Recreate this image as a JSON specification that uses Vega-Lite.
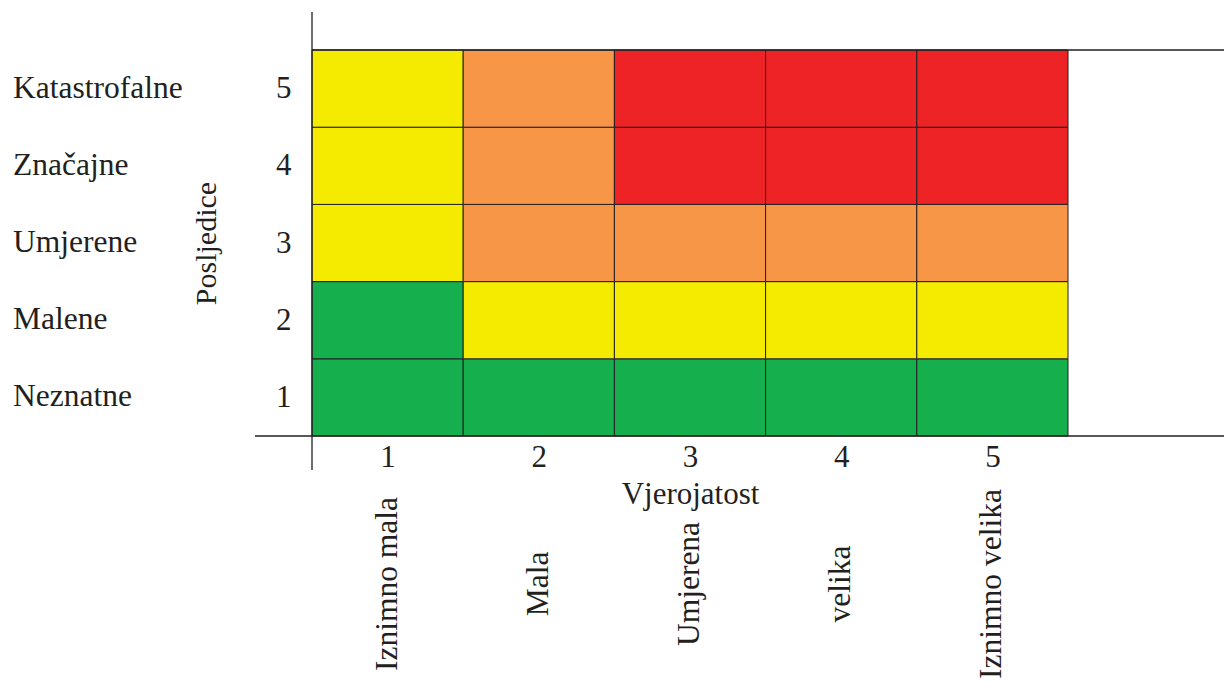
{
  "$schema": "https://vega.github.io/schema/vega-lite/v6.json",
  "width": 912,
  "height": 386,
  "autosize": {"type": "none"},
  "padding": {"left": 312, "top": 50, "right": 0, "bottom": 259},
  "background": "white",
  "config": {
    "view": {"stroke": null},
    "font": "Liberation Serif",
    "text": {"font": "Liberation Serif", "color": "#231f20"}
  },
  "layer": [
    {
      "data": {
        "values": [
          {"vjerojatnost": 1, "posljedice": 1, "rizik": "Nizak"},
          {"vjerojatnost": 2, "posljedice": 1, "rizik": "Nizak"},
          {"vjerojatnost": 3, "posljedice": 1, "rizik": "Nizak"},
          {"vjerojatnost": 4, "posljedice": 1, "rizik": "Nizak"},
          {"vjerojatnost": 5, "posljedice": 1, "rizik": "Nizak"},
          {"vjerojatnost": 1, "posljedice": 2, "rizik": "Nizak"},
          {"vjerojatnost": 2, "posljedice": 2, "rizik": "Srednji"},
          {"vjerojatnost": 3, "posljedice": 2, "rizik": "Srednji"},
          {"vjerojatnost": 4, "posljedice": 2, "rizik": "Srednji"},
          {"vjerojatnost": 5, "posljedice": 2, "rizik": "Srednji"},
          {"vjerojatnost": 1, "posljedice": 3, "rizik": "Srednji"},
          {"vjerojatnost": 2, "posljedice": 3, "rizik": "Visok"},
          {"vjerojatnost": 3, "posljedice": 3, "rizik": "Visok"},
          {"vjerojatnost": 4, "posljedice": 3, "rizik": "Visok"},
          {"vjerojatnost": 5, "posljedice": 3, "rizik": "Visok"},
          {"vjerojatnost": 1, "posljedice": 4, "rizik": "Srednji"},
          {"vjerojatnost": 2, "posljedice": 4, "rizik": "Visok"},
          {"vjerojatnost": 3, "posljedice": 4, "rizik": "Vrlo visok"},
          {"vjerojatnost": 4, "posljedice": 4, "rizik": "Vrlo visok"},
          {"vjerojatnost": 5, "posljedice": 4, "rizik": "Vrlo visok"},
          {"vjerojatnost": 1, "posljedice": 5, "rizik": "Srednji"},
          {"vjerojatnost": 2, "posljedice": 5, "rizik": "Visok"},
          {"vjerojatnost": 3, "posljedice": 5, "rizik": "Vrlo visok"},
          {"vjerojatnost": 4, "posljedice": 5, "rizik": "Vrlo visok"},
          {"vjerojatnost": 5, "posljedice": 5, "rizik": "Vrlo visok"}
        ]
      },
      "mark": {"type": "rect", "width": 151.2, "height": 77.2, "stroke": "#231f20", "strokeWidth": 1},
      "encoding": {
        "x": {
          "field": "vjerojatnost",
          "type": "quantitative",
          "scale": {"domain": [0.5, 6.5317], "zero": false, "nice": false},
          "axis": {
            "orient": "bottom",
            "values": [1, 2, 3, 4, 5],
            "format": "d",
            "ticks": false,
            "tickSize": 0,
            "domain": false,
            "grid": false,
            "labelFont": "Liberation Serif",
            "labelFontSize": 31,
            "labelColor": "#231f20",
            "labelPadding": 6,
            "title": "Vjerojatost",
            "titleFont": "Liberation Serif",
            "titleFontSize": 31,
            "titleFontWeight": "normal",
            "titleColor": "#231f20",
            "titleX": 378,
            "titleY": 67,
            "titleAlign": "center",
            "titleBaseline": "alphabetic"
          }
        },
        "y": {
          "field": "posljedice",
          "type": "quantitative",
          "scale": {"domain": [0.5, 5.5], "zero": false, "nice": false},
          "axis": {
            "orient": "left",
            "values": [1, 2, 3, 4, 5],
            "format": "d",
            "ticks": false,
            "tickSize": 0,
            "domain": false,
            "grid": false,
            "labelFont": "Liberation Serif",
            "labelFontSize": 31,
            "labelColor": "#231f20",
            "labelPadding": 21,
            "title": "Posljedice",
            "titleFont": "Liberation Serif",
            "titleFontSize": 30,
            "titleFontWeight": "normal",
            "titleColor": "#231f20",
            "titleAngle": -90,
            "titleX": -97,
            "titleY": 193,
            "titleAlign": "center",
            "titleBaseline": "alphabetic"
          }
        },
        "color": {
          "field": "rizik",
          "type": "nominal",
          "scale": {
            "domain": ["Nizak", "Srednji", "Visok", "Vrlo visok"],
            "range": ["#16af4e", "#f4eb00", "#f79646", "#ee2326"]
          },
          "legend": null
        }
      }
    },
    {
      "data": {"values": [{}]},
      "mark": {"type": "rule", "color": "#231f20", "strokeWidth": 1.3},
      "encoding": {
        "x": {"datum": 0.5, "type": "quantitative"},
        "y": {"datum": 0.06, "type": "quantitative"},
        "y2": {"datum": 5.992}
      }
    },
    {
      "data": {"values": [{}]},
      "mark": {"type": "rule", "color": "#231f20", "strokeWidth": 1.3},
      "encoding": {
        "y": {"datum": 0.5, "type": "quantitative"},
        "x": {"datum": 0.123, "type": "quantitative"},
        "x2": {"datum": 6.5317}
      }
    },
    {
      "data": {"values": [{}]},
      "mark": {"type": "rule", "color": "#231f20", "strokeWidth": 1.3},
      "encoding": {
        "y": {"datum": 5.5, "type": "quantitative"},
        "x": {"datum": 0.5, "type": "quantitative"},
        "x2": {"datum": 6.5317}
      }
    },
    {
      "data": {
        "values": [
          {"posljedice": 5, "naziv": "Katastrofalne"},
          {"posljedice": 4, "naziv": "Značajne"},
          {"posljedice": 3, "naziv": "Umjerene"},
          {"posljedice": 2, "naziv": "Malene"},
          {"posljedice": 1, "naziv": "Neznatne"}
        ]
      },
      "mark": {"type": "text", "align": "left", "baseline": "middle", "fontSize": 31.5, "font": "Liberation Serif", "color": "#231f20"},
      "encoding": {
        "x": {"datum": -1.4775, "type": "quantitative"},
        "y": {"field": "posljedice", "type": "quantitative"},
        "text": {"field": "naziv", "type": "nominal"}
      }
    },
    {
      "data": {
        "values": [
          {"vjerojatnost": 1, "naziv": "Iznimno mala"},
          {"vjerojatnost": 2, "naziv": "Mala"},
          {"vjerojatnost": 3, "naziv": "Umjerena"},
          {"vjerojatnost": 4, "naziv": "velika"},
          {"vjerojatnost": 5, "naziv": "Iznimno velika"}
        ]
      },
      "mark": {"type": "text", "align": "center", "baseline": "middle", "angle": 270, "fontSize": 31.5, "font": "Liberation Serif", "color": "#231f20"},
      "encoding": {
        "x": {"field": "vjerojatnost", "type": "quantitative"},
        "y": {"datum": -1.417, "type": "quantitative"},
        "text": {"field": "naziv", "type": "nominal"}
      }
    }
  ]
}
